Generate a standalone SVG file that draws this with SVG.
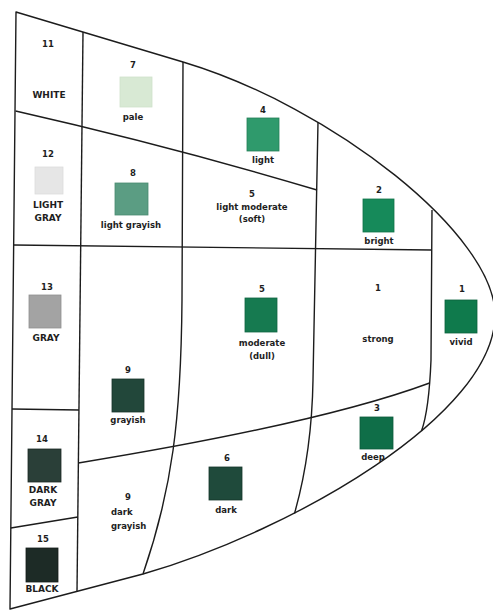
<svg xmlns="http://www.w3.org/2000/svg" width="493" height="610" viewBox="0 0 493 610">
<style>
.ln{fill:none;stroke:#1c1c1c;stroke-width:1.4;stroke-linejoin:round}
.t{font-family:"DejaVu Sans",sans-serif;font-weight:bold;font-size:8.5px;fill:#1e1e1e;text-anchor:middle}
.c{font-size:9px}
.l{text-anchor:start}
.sw{stroke-width:0.8}
</style>
<rect x="0" y="0" width="493" height="610" fill="#ffffff"/>
<g id="connectors">
<path class="ln" d="M16,12 L183,62 C333,107 495,235 495,315 C495,415 293,530.5 143,574 L10,609 Z"/>
<path class="ln" d="M83,32 L77,592"/>
<path class="ln" d="M183,62 L182,300 C181,420 172,490 143,574"/>
<path class="ln" d="M318,122 L313,380 C312,440 304,480 294.5,513.5"/>
<path class="ln" d="M432,210 L431,360 Q429,410 421.5,431"/>
<path class="ln" d="M15.6,111 Q170,146 317,190"/>
<path class="ln" d="M13.7,245 L431.5,250"/>
<path class="ln" d="M78.4,463 C170,448 330,420 429.6,383"/>
<path class="ln" d="M12,409 L79,410"/>
<path class="ln" d="M10.8,528 L77.8,517"/>
</g>
<g id="white">
<text class="t" x="48" y="47">11</text>
<text class="t c" x="49" y="98">WHITE</text>
</g>
<g id="light-gray">
<text class="t" x="48" y="157">12</text>
<rect class="sw" x="35" y="167" width="28" height="27" fill="#e6e6e6" stroke="#dcdcdc"/>
<text class="t c" x="48" y="208">LIGHT</text>
<text class="t c" x="48" y="221">GRAY</text>
</g>
<g id="gray">
<text class="t" x="47" y="290">13</text>
<rect class="sw" x="29" y="295" width="32" height="33" fill="#a3a3a3" stroke="#8f8f8f"/>
<text class="t c" x="46" y="341">GRAY</text>
</g>
<g id="dark-gray">
<text class="t" x="42" y="442">14</text>
<rect class="sw" x="28" y="449" width="33" height="33" fill="#2a3f38" stroke="#1c2a25"/>
<text class="t c" x="43" y="493">DARK</text>
<text class="t c" x="43" y="506">GRAY</text>
</g>
<g id="black">
<text class="t" x="43" y="542">15</text>
<rect class="sw" x="26" y="548" width="32" height="34" fill="#1d2b26" stroke="#141d1a"/>
<text class="t c" x="42" y="592">BLACK</text>
</g>
<g id="pale">
<text class="t" x="133" y="68">7</text>
<rect class="sw" x="120" y="77" width="32" height="30" fill="#d8e9d4" stroke="#cfe2cb"/>
<text class="t" x="133" y="120">pale</text>
</g>
<g id="light-grayish">
<text class="t" x="133" y="176">8</text>
<rect class="sw" x="115" y="183" width="33" height="32" fill="#5b9d83" stroke="#4a8a71"/>
<text class="t" x="131" y="228">light grayish</text>
</g>
<g id="grayish">
<text class="t" x="128" y="373">9</text>
<rect class="sw" x="112" y="379" width="32" height="33" fill="#22473a" stroke="#17332a"/>
<text class="t" x="128" y="423">grayish</text>
</g>
<g id="dark-grayish">
<text class="t" x="128" y="500">9</text>
<text class="t l" x="111" y="515">dark</text>
<text class="t l" x="111" y="529">grayish</text>
</g>
<g id="light">
<text class="t" x="263" y="113">4</text>
<rect class="sw" x="247" y="118" width="32" height="33" fill="#2f9a6c" stroke="#237f57"/>
<text class="t" x="263" y="163">light</text>
</g>
<g id="light-moderate">
<text class="t" x="252" y="197">5</text>
<text class="t" x="252" y="210">light moderate</text>
<text class="t" x="252" y="222">(soft)</text>
</g>
<g id="moderate">
<text class="t" x="262" y="292">5</text>
<rect class="sw" x="245" y="298" width="32" height="34" fill="#167a50" stroke="#0f6442"/>
<text class="t" x="262" y="346">moderate</text>
<text class="t" x="262" y="359">(dull)</text>
</g>
<g id="dark">
<text class="t" x="227" y="461">6</text>
<rect class="sw" x="209" y="467" width="33" height="33" fill="#1f4a3b" stroke="#15362a"/>
<text class="t" x="226" y="513">dark</text>
</g>
<g id="bright">
<text class="t" x="379" y="193">2</text>
<rect class="sw" x="363" y="199" width="31" height="33" fill="#168a5a" stroke="#0f7248"/>
<text class="t" x="379" y="244">bright</text>
</g>
<g id="strong">
<text class="t" x="378" y="291">1</text>
<text class="t" x="378" y="342">strong</text>
</g>
<g id="deep">
<text class="t" x="377" y="411">3</text>
<rect class="sw" x="360" y="417" width="33" height="32" fill="#0f6e48" stroke="#0a5a3a"/>
<text class="t" x="373" y="460">deep</text>
</g>
<g id="vivid">
<text class="t" x="462" y="292">1</text>
<rect class="sw" x="445" y="300" width="32" height="33" fill="#0f7a4c" stroke="#0a623c"/>
<text class="t" x="461" y="345">vivid</text>
</g>
</svg>
